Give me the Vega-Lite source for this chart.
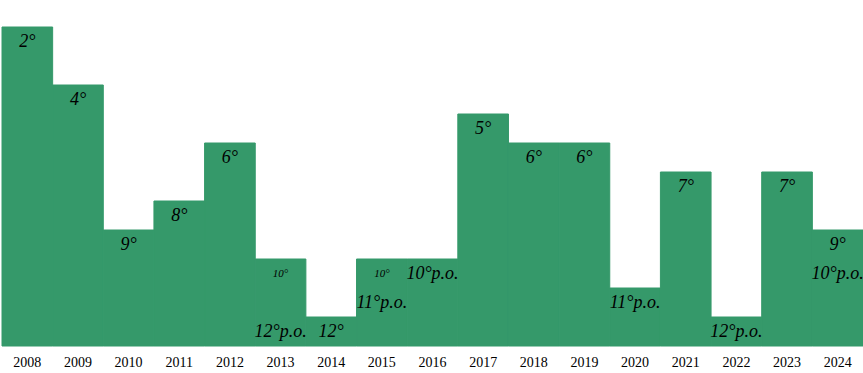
{
  "$schema": "https://vega.github.io/schema/vega-lite/v6.json",
  "width": 861,
  "height": 319,
  "autosize": {"type": "none"},
  "padding": {"left": 2, "top": 27, "right": 0, "bottom": 27},
  "background": "white",
  "config": {"view": {"stroke": null}},
  "datasets": {
    "bars": [
      {"year": "2008", "rank": 2},
      {"year": "2009", "rank": 4},
      {"year": "2010", "rank": 9},
      {"year": "2011", "rank": 8},
      {"year": "2012", "rank": 6},
      {"year": "2013", "rank": 10},
      {"year": "2014", "rank": 12},
      {"year": "2015", "rank": 10},
      {"year": "2016", "rank": 10},
      {"year": "2017", "rank": 5},
      {"year": "2018", "rank": 6},
      {"year": "2019", "rank": 6},
      {"year": "2020", "rank": 11},
      {"year": "2021", "rank": 7},
      {"year": "2022", "rank": 12},
      {"year": "2023", "rank": 7},
      {"year": "2024", "rank": 9}
    ],
    "labels": [
      {"year": "2008", "label": "2°", "rank": 2, "kind": "main"},
      {"year": "2009", "label": "4°", "rank": 4, "kind": "main"},
      {"year": "2010", "label": "9°", "rank": 9, "kind": "main"},
      {"year": "2011", "label": "8°", "rank": 8, "kind": "main"},
      {"year": "2012", "label": "6°", "rank": 6, "kind": "main"},
      {"year": "2013", "label": "10°", "rank": 10, "kind": "minor"},
      {"year": "2013", "label": "12°p.o.", "rank": 12, "kind": "main"},
      {"year": "2014", "label": "12°", "rank": 12, "kind": "main"},
      {"year": "2015", "label": "10°", "rank": 10, "kind": "minor"},
      {"year": "2015", "label": "11°p.o.", "rank": 11, "kind": "main"},
      {"year": "2016", "label": "10°p.o.", "rank": 10, "kind": "main"},
      {"year": "2017", "label": "5°", "rank": 5, "kind": "main"},
      {"year": "2018", "label": "6°", "rank": 6, "kind": "main"},
      {"year": "2019", "label": "6°", "rank": 6, "kind": "main"},
      {"year": "2020", "label": "11°p.o.", "rank": 11, "kind": "main"},
      {"year": "2021", "label": "7°", "rank": 7, "kind": "main"},
      {"year": "2022", "label": "12°p.o.", "rank": 12, "kind": "main"},
      {"year": "2023", "label": "7°", "rank": 7, "kind": "main"},
      {"year": "2024", "label": "9°", "rank": 9, "kind": "main"},
      {"year": "2024", "label": "10°p.o.", "rank": 10, "kind": "main"}
    ]
  },
  "encoding": {
    "x": {
      "field": "year",
      "type": "ordinal",
      "scale": {"paddingInner": 0, "paddingOuter": 0},
      "axis": {
        "title": null,
        "domain": false,
        "ticks": false,
        "labelAngle": 0,
        "labelFont": "Liberation Serif",
        "labelFontSize": 14,
        "labelColor": "#000000",
        "labelPadding": 9,
        "grid": false
      }
    }
  },
  "layer": [
    {
      "data": {"name": "bars"},
      "mark": {"type": "bar", "color": "#35996a", "stroke": "#35996a", "strokeWidth": 1, "binSpacing": 0},
      "encoding": {
        "y": {"field": "rank", "type": "quantitative", "scale": {"domain": [13, 2], "nice": false, "zero": false}, "axis": null},
        "y2": {"datum": 13}
      }
    },
    {
      "data": {"name": "labels"},
      "mark": {"type": "text", "font": "Liberation Serif", "fontStyle": "italic", "color": "#000000", "align": "center", "baseline": "middle", "dy": 14.5},
      "encoding": {
        "y": {"field": "rank", "type": "quantitative"},
        "text": {"field": "label"},
        "size": {"condition": {"test": "datum.kind == 'minor'", "value": 11}, "value": 18}
      }
    }
  ]
}
